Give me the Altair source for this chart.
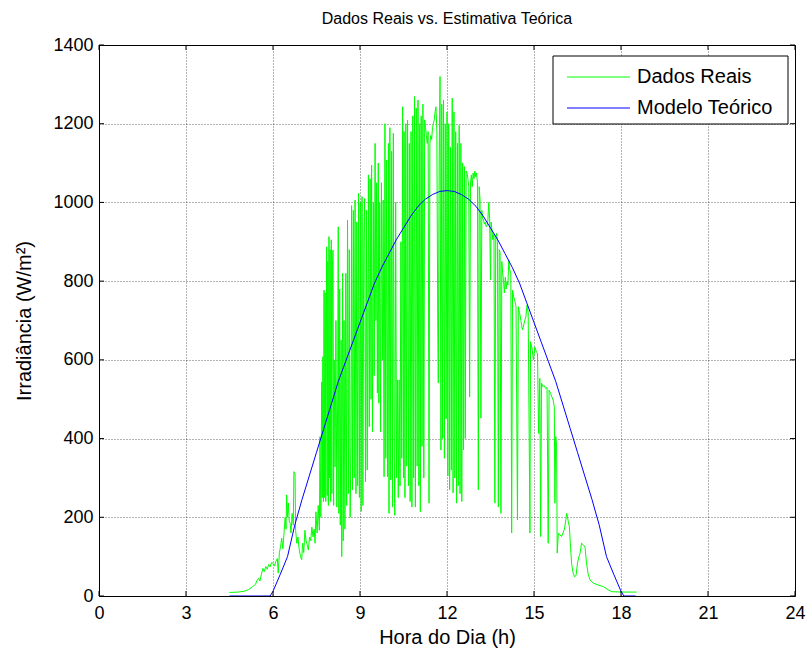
import altair as alt
import pandas as pd

# ---------------- data ----------------
x_ticks = [0, 3, 6, 9, 12, 15, 18, 21, 24]
y_ticks = [0, 200, 400, 600, 800, 1000, 1200, 1400]

model_h = [4.5, 5.0, 5.5, 5.9, 6.0, 6.25, 6.5, 6.75, 7.0, 7.25, 7.5, 7.75, 8.0, 8.25, 8.5,
           8.75, 9.0, 9.25, 9.5, 9.75, 10.0, 10.25, 10.5, 10.75, 11.0, 11.25, 11.5, 11.75,
           12.0, 12.25, 12.5, 12.75, 13.0, 13.25, 13.5, 13.75, 14.0, 14.25, 14.5, 14.75,
           15.0, 15.25, 15.5, 15.75, 16.0, 16.25, 16.5, 16.75, 17.0, 17.25, 17.5, 17.75,
           18.0, 18.1, 18.5]
model_v = [0, 0, 0, 0, 12, 55, 100, 180, 245, 305, 365, 425, 485, 545, 595,
           645, 695, 745, 795, 835, 870, 905, 935, 965, 990, 1008, 1020, 1028,
           1030, 1028, 1020, 1008, 990, 965, 935, 905, 870, 835, 795, 745,
           695, 645, 595, 545, 485, 425, 365, 305, 245, 180, 100, 55,
           12, 0, 0]

real_h = [
    4.50, 4.80, 5.00, 5.15, 5.30, 5.40, 5.45, 5.50, 5.55, 5.60, 5.65, 5.70, 5.75, 5.80,
    5.85, 5.90, 5.95, 6.00, 6.05, 6.10, 6.15, 6.18, 6.22, 6.26, 6.30, 6.34, 6.38, 6.42,
    6.45, 6.47, 6.50, 6.53, 6.56, 6.59, 6.62, 6.66, 6.70, 6.72, 6.76, 6.78, 6.82, 6.86,
    6.90, 6.95, 6.99, 7.02, 7.06, 7.10, 7.14, 7.18, 7.22, 7.26, 7.30, 7.34, 7.38, 7.42,
    7.45, 7.48, 7.52, 7.56, 7.60,
    7.62, 7.65, 7.68, 7.70, 7.72, 7.74, 7.76, 7.78, 7.80, 7.82, 7.85, 7.87, 7.89, 7.91,
    7.93, 7.95, 7.97, 7.99, 8.01, 8.03, 8.05, 8.07, 8.09, 8.11, 8.14, 8.17, 8.20, 8.23,
    8.25, 8.27, 8.30, 8.32, 8.35, 8.37, 8.40, 8.42, 8.45, 8.48, 8.51, 8.54, 8.57, 8.60,
    8.63, 8.66, 8.69, 8.71, 8.74, 8.77, 8.80, 8.83, 8.86, 8.89, 8.92, 8.95, 8.98, 9.01,
    9.04, 9.07, 9.10, 9.13, 9.16, 9.19, 9.22, 9.25, 9.29, 9.32, 9.35, 9.38, 9.40, 9.43,
    9.46, 9.49, 9.52, 9.55, 9.57, 9.60, 9.63, 9.65, 9.68, 9.71, 9.74, 9.77, 9.80, 9.83,
    9.86, 9.89, 9.92, 9.95, 9.98, 10.00, 10.03, 10.06, 10.09, 10.12, 10.15, 10.18, 10.20,
    10.23, 10.26, 10.29, 10.32, 10.35, 10.38, 10.41, 10.44, 10.47, 10.50, 10.52, 10.55,
    10.58, 10.61, 10.64, 10.67, 10.70, 10.73, 10.76, 10.79, 10.82, 10.85, 10.88, 10.91,
    10.94, 10.97, 11.00, 11.03, 11.06, 11.08, 11.11, 11.14, 11.17, 11.20, 11.23, 11.26,
    11.29, 11.32, 11.35, 11.38, 11.41, 11.44, 11.47, 11.50, 11.53, 11.56, 11.59, 11.62,
    11.65, 11.68, 11.70, 11.73, 11.76, 11.79, 11.82, 11.85, 11.88, 11.91, 11.94, 11.97,
    12.00, 12.03, 12.06, 12.09, 12.12, 12.15, 12.18, 12.21, 12.24, 12.27, 12.30, 12.33,
    12.36, 12.39, 12.42, 12.45, 12.48, 12.51, 12.54, 12.57, 12.60, 12.63, 12.66, 12.69,
    12.72, 12.75, 12.78, 12.81, 12.84, 12.87, 12.90, 12.93, 12.96, 12.99, 13.02, 13.05,
    13.08, 13.11, 13.14, 13.17, 13.20, 13.23, 13.26, 13.29, 13.32, 13.35, 13.38, 13.41,
    13.44, 13.47, 13.50, 13.52, 13.55, 13.58, 13.62, 13.65, 13.68, 13.71, 13.74, 13.77,
    13.80, 13.83, 13.86, 13.89, 13.92, 13.95, 13.98, 14.01, 14.04, 14.07, 14.10, 14.13,
    14.16, 14.20, 14.23, 14.26, 14.30, 14.34, 14.38, 14.43, 14.46, 14.50, 14.55, 14.60,
    14.63, 14.68, 14.72, 14.76, 14.80, 14.86, 14.88, 14.93, 14.98, 15.03, 15.08, 15.12,
    15.16, 15.20, 15.23, 15.26, 15.30, 15.35, 15.40, 15.45, 15.49, 15.52, 15.57, 15.62,
    15.66, 15.70, 15.72, 15.75, 15.78, 15.80, 15.84, 15.90, 15.95, 16.00, 16.05, 16.10,
    16.13, 16.18, 16.22, 16.26, 16.30, 16.35, 16.40, 16.45, 16.50, 16.55, 16.59, 16.64,
    16.70, 16.76, 16.81, 16.87, 16.93, 17.04, 17.20, 17.39, 17.55, 17.68, 18.00, 18.54,
]
real_v = [
    9, 10, 12, 16, 24, 30, 40, 45, 38, 55, 70, 62, 75, 68,
    80, 74, 85, 83, 76, 88, 95, 58, 110, 125, 147, 120, 160, 200,
    170, 257, 200, 236, 190, 185, 160, 210, 180, 316, 312, 167, 134, 150,
    120, 100, 92, 134, 110, 167, 140, 130, 117, 150, 140, 175, 150, 170,
    134, 214, 160, 230, 167,
    405, 200, 544, 250, 608, 240, 777, 250, 770, 240, 887, 255, 850, 230,
    913, 300, 880, 240, 905, 260, 840, 879, 230, 600, 328, 700, 226, 500,
    938, 210, 780, 180, 650, 100, 820, 140, 700, 170, 820, 230, 955, 260,
    880, 200, 380, 992, 270, 980, 300, 1006, 260, 950, 280, 1023, 250, 1000,
    215, 1015, 230, 900, 1010, 290, 980, 320, 1070, 430, 1060, 500, 1095, 417,
    1000, 560, 1150, 700, 1050, 516, 1100, 490, 1000, 417, 1050, 600, 1006, 303,
    1200, 350, 1108, 303, 1150, 210, 1190, 295, 1130, 226, 1176, 350, 205,
    1000, 300, 549, 250, 549, 280, 900, 350, 1243, 300, 1180, 250,
    1200, 330, 1209, 280, 1150, 240, 1180, 226, 1220, 300, 1269, 226,
    1240, 330, 1260, 280, 1200, 214, 1220, 380, 1250, 300, 1210, 1190,
    1170, 1150, 1180, 236, 1150, 1170, 1160, 1190, 1200, 1210, 1230, 1243,
    1180, 700, 541, 1100, 1320, 371, 1250, 400, 1260, 350, 1200, 450,
    1230, 305, 1200, 270, 1140, 320, 1265, 262, 1230, 300, 1180, 236,
    1150, 280, 1196, 260, 1150, 240, 1100, 371, 1091, 400, 1080, 1075,
    1060, 1040, 506, 1050, 1070, 1040, 1075, 1060, 1080, 1065, 1075, 1050,
    270, 1040, 1006, 452, 980, 960, 955, 945, 950, 938, 940, 955,
    1000, 960, 803, 950, 930, 905, 920, 236, 910, 922, 900, 226,
    880, 873, 210, 850, 820, 800, 770, 810, 780, 800, 790, 853,
    830, 820, 160, 777, 760, 750, 735, 193, 735, 720, 700, 676,
    683, 700, 709, 739, 720, 160, 646, 630, 600, 633, 620, 617,
    413, 553, 151, 541, 532, 535, 527, 530, 134, 523, 515, 505,
    498, 481, 236, 405, 379, 109, 160, 155, 151, 160, 170, 195,
    210, 190, 176, 124, 80, 58, 49, 52, 84, 100, 109, 134,
    130, 124, 84, 55, 41, 33, 28, 24, 16, 11, 10, 10,
]

legend_labels = ["Dados Reais", "Modelo Teórico"]
line_colors = ["#00FF00", "#0000FF"]

# ---------------- chart ----------------
W, H = 696, 551
FONT = "Liberation Sans"

real_df = pd.DataFrame({"h": real_h, "v": real_v})
model_df = pd.DataFrame({"h": model_h, "v": model_v})
xt_df = pd.DataFrame({"h": x_ticks})
yt_df = pd.DataFrame({"v": y_ticks})

xs = alt.Scale(domain=[0, 24], nice=False, zero=False)
ys = alt.Scale(domain=[0, 1400], nice=False)

common_axis = dict(grid=True, ticks=False, domain=False, format="d", labelFlush=False,
                   labelFont=FONT, titleFont=FONT, labelFontSize=18, titleFontSize=20,
                   labelColor="black", titleColor="black", titleFontWeight="normal",
                   gridColor="#000000", gridDash=[1, 2], gridWidth=1, gridOpacity=0.6)
x_axis = alt.Axis(values=x_ticks, title="Hora do Dia (h)", labelPadding=8, titlePadding=5,
                  **common_axis)
y_axis = alt.Axis(values=y_ticks, title="Irradiância (W/m²)", labelPadding=6, titlePadding=18,
                  **common_axis)

X = alt.X("h:Q", scale=xs, axis=x_axis)
Y = alt.Y("v:Q", scale=ys, axis=y_axis)

real_line = alt.Chart(real_df).mark_line(color=line_colors[0], strokeWidth=1, clip=True).encode(x=X, y=Y)
model_line = alt.Chart(model_df).mark_line(color=line_colors[1], strokeWidth=1, clip=True).encode(x=X, y=Y)

TL = 5
top_ticks = alt.Chart(xt_df).mark_rule(color="black", strokeWidth=1).encode(
    x=X, y=alt.value(0), y2=alt.value(TL))
bot_ticks = alt.Chart(xt_df).mark_rule(color="black", strokeWidth=1).encode(
    x=X, y=alt.value(H), y2=alt.value(H - TL))
left_ticks = alt.Chart(yt_df).mark_rule(color="black", strokeWidth=1).encode(
    y=Y, x=alt.value(0), x2=alt.value(TL))
right_ticks = alt.Chart(yt_df).mark_rule(color="black", strokeWidth=1).encode(
    y=Y, x=alt.value(W), x2=alt.value(W - TL))

# manual legend (MATLAB style box)
lg_df = pd.DataFrame({"label": legend_labels[:1]})
LX0, LX1, LY0, LY1 = 454, 689, 11, 79
legend_box = alt.Chart(lg_df).mark_rect(fill="white", stroke="black", strokeWidth=1).encode(
    x=alt.value(LX0), x2=alt.value(LX1), y=alt.value(LY0), y2=alt.value(LY1))
leg_layers = []
for i, (lab, col) in enumerate(zip(legend_labels, line_colors)):
    d = pd.DataFrame({"label": [lab]})
    yy = 32 + 31 * i
    leg_layers.append(alt.Chart(d).mark_rule(color=col, strokeWidth=1).encode(
        x=alt.value(468), x2=alt.value(531), y=alt.value(yy)))
    leg_layers.append(alt.Chart(d).mark_text(align="left", baseline="middle", font=FONT,
                                             fontSize=20, color="black").encode(
        x=alt.value(538), y=alt.value(yy), text="label:N"))

chart = alt.layer(
    real_line, model_line, top_ticks, bot_ticks, left_ticks, right_ticks,
    legend_box, *leg_layers
).properties(
    width=W, height=H,
    background="white",
    title=alt.Title("Dados Reais vs. Estimativa Teórica", font=FONT, fontSize=16,
                    fontWeight="normal", anchor="middle", offset=9, color="black"),
    autosize=alt.AutoSizeParams(type="none"),
    padding={"left": 99, "top": 45, "right": 15, "bottom": 57},
).configure_view(
    stroke="black", strokeWidth=1
)

chart.save("out.html", embed_options={"renderer": "svg", "actions": False})
